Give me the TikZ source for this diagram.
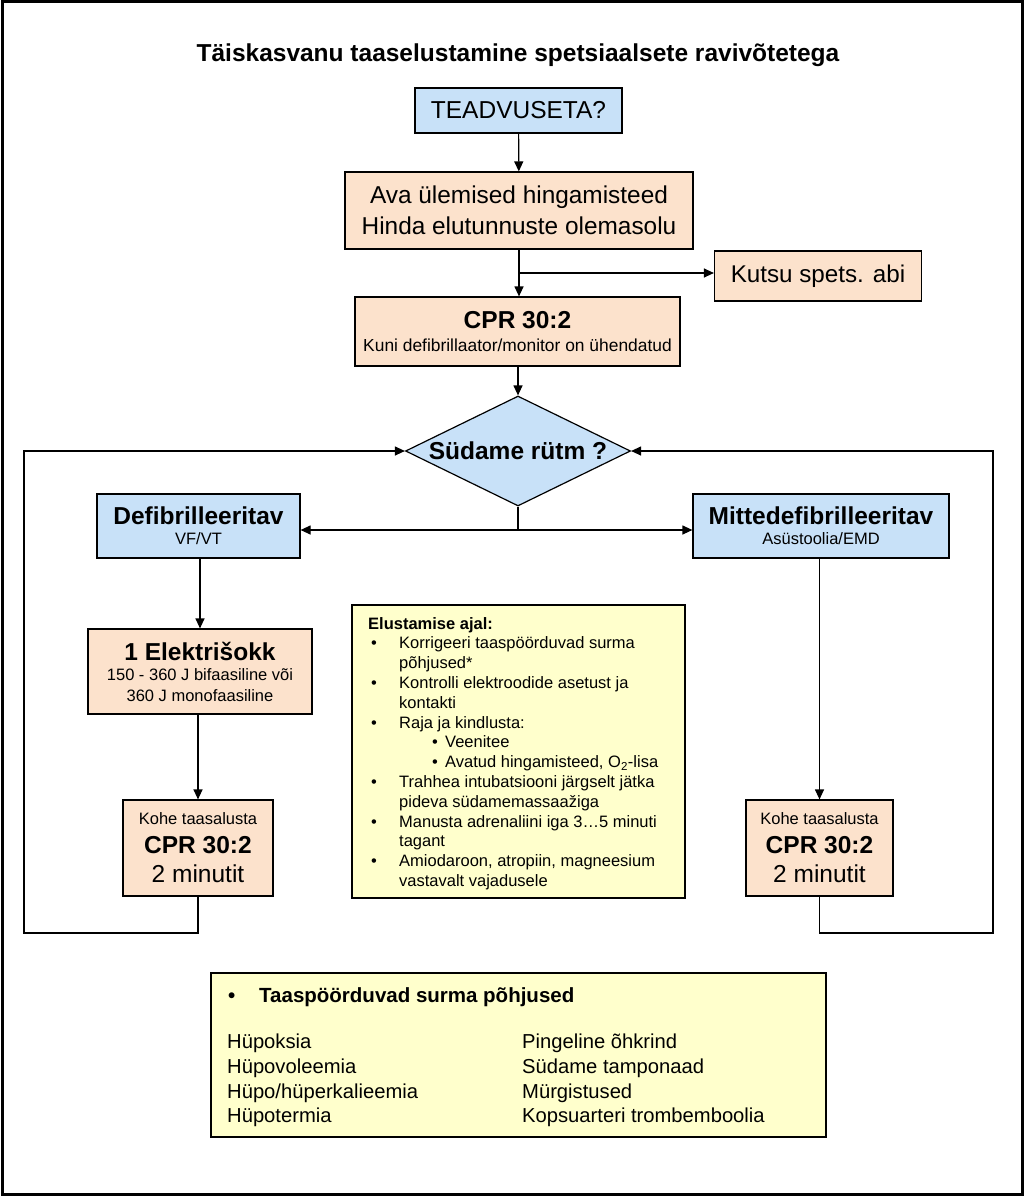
\documentclass[tikz,border=0pt]{standalone}
\usepackage{fontspec}
\setmainfont{Liberation Sans}
\usetikzlibrary{shapes.geometric,arrows.meta}

\definecolor{boxblue}{RGB}{200,225,248}
\definecolor{boxpeach}{RGB}{252,226,204}
\definecolor{noteyellow}{RGB}{255,255,204}

\newcommand{\setfs}[2]{\fontsize{#1}{#2}\selectfont}
\newcommand{\bigfs}{\fontsize{24.5}{28}\selectfont}
\newcommand{\smallfs}{\fontsize{16.5}{20}\selectfont}
\newcommand{\blt}{\makebox[31pt][l]{\hspace*{3pt}•}}
\newcommand{\subblt}{\makebox[77pt][l]{\hspace*{64pt}•}}
\newcommand{\cont}{\hspace*{31pt}}

\tikzset{
  box/.style={draw, line width=1.2pt, inner sep=0pt, align=center},
  bluebox/.style={box, fill=boxblue},
  peachbox/.style={box, fill=boxpeach},
  notebox/.style={box, fill=noteyellow},
  conn/.style={line width=1.2pt},
  arr/.style={conn, -{Triangle[length=10pt,width=9pt]}},
}

\begin{document}
\begin{tikzpicture}[x=1pt,y=-1pt]
	\useasboundingbox (0,0) rectangle (1024,1196);
	% frame and title
	\draw[line width=3pt] (2,2) rectangle (1022,1194);
	\node[font=\setfs{24.5}{28}\bfseries] (title) at (518,55) {Täiskasvanu taaselustamine spetsiaalsete ravivõtetega};

	% top of the chain
	\node[bluebox, minimum width=207pt, minimum height=45pt, font=\setfs{24.5}{28}] (teadv) at (518.5,110.5) {TEADVUSETA?};
	\node[peachbox, minimum width=348pt, minimum height=77pt, font=\setfs{24.4}{31}] (ava) at (519,210.5) {Ava ülemised hingamisteed\\Hinda elutunnuste olemasolu};
	\node[peachbox, minimum width=207pt, minimum height=50pt, font=\setfs{24.2}{28}] (kutsu) at (818,276) {Kutsu spets. abi};
	\node[peachbox, minimum width=325pt, minimum height=69pt, font=\setfs{17.4}{23}] (cpr) at (517.5,331.5) {{\bigfs\bfseries CPR 30:2}\\{\setfs{17.4}{20}Kuni defibrillaator/monitor on ühendatud}};
	\node[diamond, aspect=2.05, draw, fill=boxblue, line width=1.2pt, minimum width=225pt, minimum height=110pt, inner sep=0pt, font=\setfs{24.5}{28}\bfseries] (rutm) at (518,451) {Südame rütm ?};

	% rhythm branches
	\node[bluebox, minimum width=203pt, minimum height=64pt, font=\setfs{16.5}{20}] (defib) at (198.5,526) {{\bigfs\bfseries Defibrilleeritav}\\{\smallfs VF/VT}};
	\node[bluebox, minimum width=256pt, minimum height=64pt, font=\setfs{16.5}{20}] (mitte) at (821,526) {{\bigfs\bfseries Mittedefibrilleeritav}\\{\smallfs Asüstoolia/EMD}};
	\node[peachbox, minimum width=224pt, minimum height=85pt, font=\setfs{16.5}{20.5}] (elektri) at (200,671.5) {{\bigfs\bfseries 1 Elektrišokk}\\{\smallfs 150 - 360 J bifaasiline või}\\{\smallfs 360 J monofaasiline}};
	\node[peachbox, minimum width=150pt, minimum height=96pt, font=\setfs{16.5}{29}] (koheL) at (198,848) {{\smallfs Kohe taasalusta}\\{\bigfs\bfseries CPR 30:2}\\{\bigfs 2 minutit}};
	\node[peachbox, minimum width=147pt, minimum height=96pt, font=\setfs{16.5}{29}] (koheR) at (819.5,848) {{\smallfs Kohe taasalusta}\\{\bigfs\bfseries CPR 30:2}\\{\bigfs 2 minutit}};

	% during resuscitation
	\node[notebox, minimum width=333pt, minimum height=293pt] (ajal) at (518.5,751.5) {};
	\node[anchor=north west, align=left, inner sep=0pt, font=\setfs{16.5}{19.8}] (ajaltxt) at (368,617) {\textbf{Elustamise ajal:}\\
		\blt Korrigeeri taaspöörduvad surma\\
		\cont põhjused*\\
		\blt Kontrolli elektroodide asetust ja\\
		\cont kontakti\\
		\blt Raja ja kindlusta:\\
		\subblt Veenitee\\
		\subblt Avatud hingamisteed, O\textsubscript{2}-lisa\\
		\blt Trahhea intubatsiooni järgselt jätka\\
		\cont pideva südamemassaažiga\\
		\blt Manusta adrenaliini iga 3…5 minuti\\
		\cont tagant\\
		\blt Amiodaroon, atropiin, magneesium\\
		\cont vastavalt vajadusele};

	% reversible causes
	\node[notebox, minimum width=615pt, minimum height=164pt] (pohj) at (518.5,1055) {};
	\node[anchor=west, inner sep=0pt, font=\setfs{20.5}{24}\bfseries] (pohjhead) at (226,997) {\makebox[33pt][l]{\hspace*{2pt}•}Taaspöörduvad surma põhjused};
	\node[anchor=north west, align=left, inner sep=0pt, font=\setfs{20.2}{24.7}] (pohjL) at (227,1034) {Hüpoksia\\Hüpovoleemia\\Hüpo/hüperkalieemia\\Hüpotermia};
	\node[anchor=north west, align=left, inner sep=0pt, font=\setfs{20.2}{24.7}] (pohjR) at (522,1034) {Pingeline õhkrind\\Südame tamponaad\\Mürgistused\\Kopsuarteri trombemboolia};

	% connectors
	\coordinate (split) at (519,273);
	\coordinate (fork) at (518,530);
	\coordinate (loopL) at (24,933);
	\coordinate (loopR) at (993,933);
	\draw[arr] (teadv) -- (ava);
	\draw[arr] (ava.south) -- (cpr.north -| ava.south);
	\draw[arr] (split) -- (split -| kutsu.west);
	\draw[arr] (cpr.south -| rutm.north) -- (rutm.north);
	\draw[conn] (rutm.south) -- (fork);
	\draw[arr] (fork) -- (fork -| defib.east);
	\draw[arr] (fork) -- (fork -| mitte.west);
	\draw[arr] (defib.south -| elektri.north) -- (elektri.north);
	\draw[arr] (elektri.south -| koheL.north) -- (koheL.north);
	\draw[arr] (koheR.north |- mitte.south) -- (koheR.north);
	\draw[arr] (koheL.south) |- (loopL) |- (rutm.west);
	\draw[arr] (koheR.south) |- (loopR) |- (rutm.east);
\end{tikzpicture}
\end{document}
